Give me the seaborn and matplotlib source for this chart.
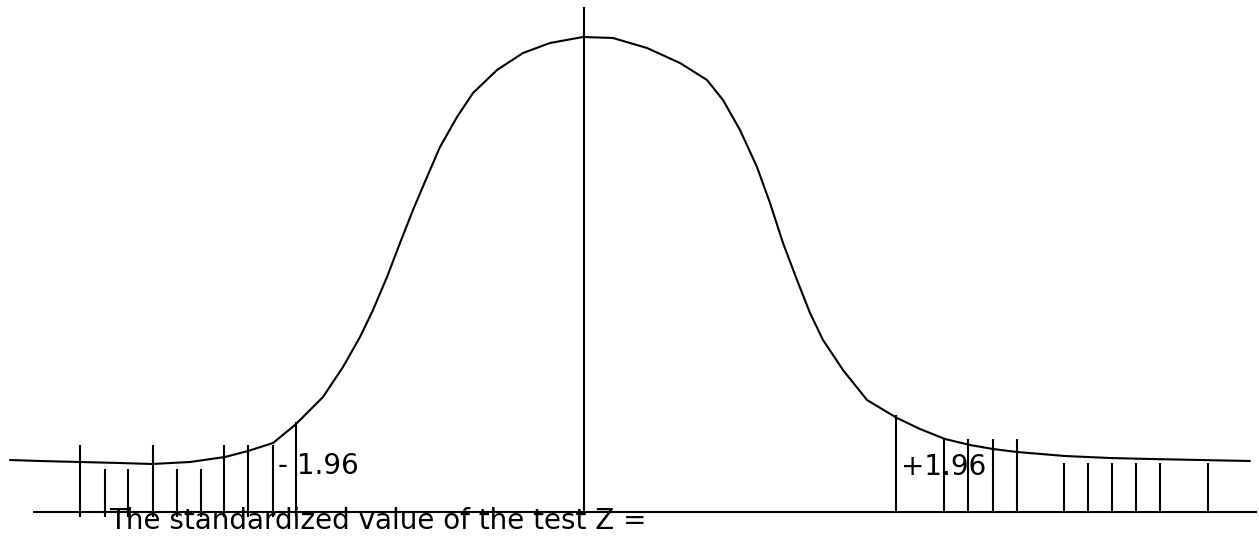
import matplotlib
matplotlib.use("Agg")
import matplotlib.pyplot as plt
import seaborn as sns
import pandas as pd

# Bell curve drawn freehand (x, y in picture units, y grows downward)
curve_x = [10, 40, 80, 120, 152, 190, 225, 248, 273, 295, 323, 343, 360, 373, 387,
           400, 413, 427, 440, 457, 473, 497, 523, 550, 583, 613, 647, 680, 707,
           723, 740, 757, 770, 783, 797, 810, 823, 843, 867, 897, 920, 945,
           970, 993, 1017, 1065, 1110, 1150, 1200, 1250]
curve_y = [460, 461, 462, 463, 464, 462, 457, 451, 443, 425, 397, 367, 337, 310, 277,
           243, 210, 177, 147, 117, 93, 70, 53, 43, 37, 38, 48, 63, 80,
           100, 130, 167, 203, 243, 280, 313, 340, 370, 400, 418, 429, 439,
           445, 449, 452, 456, 458, 459, 460, 461]

# Rejection-region hatch lines
left_tall_x = [80, 153, 224, 248, 273]
left_short_x = [105, 128, 177, 201]
left_crit_x = [296]
right_crit_x = [896]
right_mid_x = [944, 968, 993, 1017]
right_low_x = [1064, 1088, 1112, 1136, 1160, 1208]

center_x = 584
baseline_y = 512

label_left = "- 1.96"
label_right = "+1.96"
caption = "The standardized value of the test Z ="

sns.set_theme(style="white")
plt.rcParams["font.family"] = ["DejaVu Sans"]

fig = plt.figure(figsize=(12.59, 5.36), dpi=100)
ax = fig.add_axes([0, 0, 1, 1])
ax.set_xlim(0, 1259)
ax.set_ylim(536, 0)
ax.axis("off")

lw = 1.5
df = pd.DataFrame({"x": curve_x, "y": curve_y})
sns.lineplot(data=df, x="x", y="y", sort=False, estimator=None, color="black",
             linewidth=lw, ax=ax, solid_joinstyle="round", solid_capstyle="round")

# baseline and centre line
ax.hlines(baseline_y, 33, 1257, color="black", linewidth=lw)
ax.vlines(center_x, 7, baseline_y, color="black", linewidth=lw)

# hatch lines
ax.vlines(left_tall_x, 445, 517, color="black", linewidth=lw)
ax.vlines(left_short_x, 469, 517, color="black", linewidth=lw)
ax.vlines(left_crit_x, 422, 517, color="black", linewidth=lw)
ax.vlines(right_crit_x, 415, baseline_y, color="black", linewidth=lw)
ax.vlines(right_mid_x, 439, baseline_y, color="black", linewidth=lw)
ax.vlines(right_low_x, 463, baseline_y, color="black", linewidth=lw)

fs = 20
ax.text(278, 474, label_left, fontsize=fs, ha="left", va="baseline", color="black")
ax.text(901, 475, label_right, fontsize=fs, ha="left", va="baseline", color="black")
ax.text(109, 529, caption, fontsize=fs, ha="left", va="baseline", color="black")

fig.savefig("out.png", dpi=100, facecolor="white")
